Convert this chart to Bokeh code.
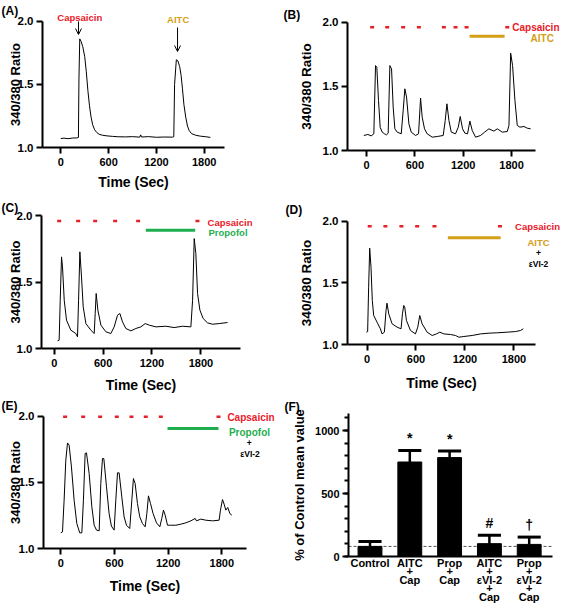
from bokeh.plotting import figure
from bokeh.models import (Range1d, FixedTicker, Label, Arrow, OpenHead,
                          NumeralTickFormatter, SingleIntervalTicker)
from bokeh.core.properties import value
from bokeh.layouts import column, row
from bokeh.embed import file_html
from bokeh.resources import INLINE

FONT = "Liberation Sans"
RED = "#E8202A"
GOLD = "#D4A017"
GREEN = "#1FAE4F"

# ------------------------------------------------------------------ data
time_ticks = [0, 600, 1200, 1800]
ratio_ticks = [1.0, 1.5, 2.0]

# (A) capsaicin then AITC
a_time = [0, 40, 90, 150, 200, 221, 228, 238, 255, 275, 300, 320, 340, 360, 380,
          400, 425, 450, 480, 522, 580, 650, 720, 815, 900, 990, 1003, 1012, 1100,
          1200, 1300, 1400, 1418, 1428, 1450, 1470, 1492, 1510, 1526, 1545, 1568,
          1590, 1609, 1640, 1693, 1750, 1820, 1877]
a_ratio = [1.071, 1.074, 1.07, 1.075, 1.076, 1.079, 1.55, 1.86, 1.84, 1.80, 1.72,
           1.60, 1.45, 1.33, 1.24, 1.18, 1.14, 1.12, 1.105, 1.097, 1.092, 1.088,
           1.085, 1.084, 1.086, 1.082, 1.1, 1.083, 1.086, 1.081, 1.083, 1.082,
           1.085, 1.5, 1.695, 1.685, 1.64, 1.57, 1.47, 1.34, 1.24, 1.17, 1.137,
           1.11, 1.097, 1.09, 1.085, 1.08]
a_cap_arrow = 222
a_aitc_arrow = 1465

# (B) repeated capsaicin, AITC
b_time = [-33, 17, 58, 91, 112, 128, 149, 170, 195, 224, 248, 269, 290, 311, 331,
          352, 381, 431, 455, 476, 497, 526, 555, 609, 646, 671, 691, 720, 753,
          816, 878, 952, 977, 998, 1023, 1052, 1105, 1139, 1163, 1192, 1221, 1254,
          1283, 1312, 1354, 1416, 1466, 1519, 1581, 1623, 1685, 1747, 1768, 1789,
          1813, 1842, 1871, 1904, 1954, 1995, 2037]
b_ratio = [1.117, 1.125, 1.114, 1.13, 1.662, 1.649, 1.39, 1.18, 1.143, 1.13, 1.122,
           1.135, 1.662, 1.636, 1.338, 1.169, 1.143, 1.13, 1.31, 1.481, 1.416,
           1.208, 1.143, 1.117, 1.13, 1.408, 1.26, 1.169, 1.13, 1.104, 1.109,
           1.117, 1.234, 1.364, 1.234, 1.143, 1.13, 1.182, 1.265, 1.169, 1.135,
           1.13, 1.229, 1.156, 1.104, 1.117, 1.143, 1.169, 1.151, 1.169, 1.143,
           1.148, 1.195, 1.758, 1.662, 1.39, 1.195, 1.182, 1.187, 1.174, 1.169]
b_cap_times = [70, 257, 455, 650, 960, 1105, 1242, 1747]
b_aitc_on, b_aitc_off = 1279, 1714

# (C) repeated capsaicin, propofol
c_time = [41, 61, 74, 90, 102, 123, 151, 204, 266, 286, 299, 315, 335, 356, 389,
          450, 491, 503, 515, 536, 573, 634, 695, 736, 777, 806, 838, 879, 941,
          1002, 1063, 1117, 1166, 1248, 1370, 1472, 1575, 1677, 1698, 1718, 1738,
          1759, 1788, 1828, 1882, 1943, 2025, 2127]
c_ratio = [1.058, 1.063, 1.364, 1.691, 1.616, 1.364, 1.214, 1.138, 1.113, 1.088,
           1.364, 1.729, 1.54, 1.314, 1.188, 1.138, 1.113, 1.264, 1.415, 1.289,
           1.176, 1.126, 1.113, 1.163, 1.251, 1.264, 1.201, 1.151, 1.133, 1.151,
           1.163, 1.188, 1.176, 1.163, 1.168, 1.158, 1.168, 1.163, 1.364, 1.829,
           1.716, 1.415, 1.289, 1.226, 1.193, 1.183, 1.188, 1.196]
c_cap_times = [61, 294, 503, 748, 1030, 1758]
c_prop_on, c_prop_off = 1124, 1730

# (D) repeated capsaicin, AITC + eVI-2
d_time = [-8, 8, 20, 33, 49, 65, 82, 123, 164, 184, 213, 233, 245, 266, 307, 368,
          417, 434, 450, 462, 483, 532, 593, 622, 646, 675, 736, 798, 851, 892,
          941, 1023, 1084, 1125, 1186, 1288, 1391, 1493, 1595, 1718, 1820, 1881,
          1914]
d_ratio = [1.1, 1.105, 1.465, 1.781, 1.627, 1.357, 1.235, 1.181, 1.127, 1.086, 1.1,
           1.276, 1.335, 1.249, 1.168, 1.141, 1.127, 1.249, 1.316, 1.303, 1.195,
           1.114, 1.086, 1.141, 1.235, 1.168, 1.1, 1.073, 1.086, 1.1, 1.086, 1.081,
           1.073, 1.059, 1.065, 1.073, 1.086, 1.092, 1.095, 1.1, 1.105, 1.114,
           1.127]
d_cap_times = [33, 225, 421, 614, 826, 1628]
d_aitc_on, d_aitc_off = 990, 1636

# (E) repeated capsaicin, propofol + eVI-2
e_time = [0, 19, 37, 56, 75, 93, 119, 149, 179, 212, 235, 253, 272, 287, 317, 347,
          373, 399, 429, 447, 466, 481, 511, 540, 566, 596, 615, 634, 652, 682,
          708, 734, 771, 794, 812, 831, 857, 883, 913, 943, 962, 980, 1003, 1032,
          1070, 1107, 1129, 1148, 1167, 1193, 1230, 1286, 1342, 1398, 1454, 1502,
          1517, 1565, 1621, 1696, 1770, 1785, 1808, 1826, 1845, 1867, 1890, 1912]
e_ratio = [1.118, 1.126, 1.365, 1.668, 1.798, 1.781, 1.617, 1.365, 1.189, 1.118,
           1.118, 1.365, 1.718, 1.723, 1.567, 1.315, 1.176, 1.139, 1.134, 1.491,
           1.68, 1.68, 1.466, 1.264, 1.169, 1.139, 1.365, 1.572, 1.572, 1.39,
           1.239, 1.176, 1.151, 1.365, 1.529, 1.491, 1.34, 1.239, 1.189, 1.164,
           1.264, 1.398, 1.34, 1.264, 1.194, 1.164, 1.227, 1.29, 1.252, 1.176,
           1.176, 1.176, 1.184, 1.194, 1.209, 1.227, 1.209, 1.222, 1.214, 1.209,
           1.214, 1.29, 1.37, 1.335, 1.29, 1.31, 1.264, 1.252]
e_cap_times = [48, 250, 440, 626, 790, 950, 1118, 1763]
e_prop_on, e_prop_off = 1193, 1763

# (F) summary bars
f_groups = ["Control", "AITC\n+\nCap", "Prop\n+\nCap",
            "AITC\n+\n\u03b5VI-2\n+\nCap", "Prop\n+\n\u03b5VI-2\n+\nCap"]
f_mean = [80, 750, 785, 102, 96]
f_sem = [40, 92, 52, 66, 58]
f_marks = ["", "*", "*", "#", "\u2020"]
pct_ticks = [0, 500, 1000]


# ------------------------------------------------------------------ helpers
def style_axes(p):
    for ax in (p.xaxis[0], p.yaxis[0]):
        ax.axis_line_width = 2
        ax.axis_line_color = "black"
        ax.major_tick_line_width = 2
        ax.major_tick_out = 6
        ax.major_tick_in = 0
        ax.minor_tick_line_color = None
        ax.major_label_text_font = FONT
        ax.major_label_text_font_style = "bold"
        ax.major_label_text_color = "black"
        ax.axis_label_text_font = FONT
        ax.axis_label_text_font_style = "bold"
        ax.axis_label_text_color = "black"
    p.xgrid.visible = False
    p.ygrid.visible = False
    p.outline_line_color = None
    p.background_fill_color = "white"
    p.border_fill_color = "white"


def base_figure(fx, fy, fw, fh, xmap, ymap):
    """Frame covers the whole canvas; xmap/ymap turn page pixels into data."""
    return figure(width=fw, height=fh, title=None, output_backend="svg",
                  toolbar_location=None,
                  x_range=Range1d(xmap(fx), xmap(fx + fw)),
                  y_range=Range1d(ymap(fy + fh), ymap(fy)),
                  min_border=0, min_border_left=0, min_border_right=0,
                  min_border_top=0, min_border_bottom=0)


def trace_panel(fx, fy, fw, fh, fl, fr, x0px, spp, y1px, ppu,
                xlabel, ylab_standoff, xlab_standoff, ylab_size=13):
    xmap = lambda px: (px - x0px) * spp
    ymap = lambda py: 1.0 + (y1px - py) / ppu
    p = base_figure(fx, fy, fw, fh, xmap, ymap)
    style_axes(p)
    x_left, x_right = xmap(fl), xmap(fr)
    p.yaxis.fixed_location = x_left
    p.xaxis.fixed_location = 1.0
    p.xaxis.bounds = (x_left, x_right)
    p.yaxis.bounds = (1.0, 2.0)
    p.xaxis.ticker = FixedTicker(ticks=time_ticks)
    p.yaxis.ticker = FixedTicker(ticks=ratio_ticks)
    p.yaxis.formatter = NumeralTickFormatter(format="0.0")
    p.xaxis.major_label_text_font_size = "11px"
    p.yaxis.major_label_text_font_size = "11.5px"
    p.xaxis.major_label_standoff = 4
    p.yaxis.major_label_standoff = 3
    p.yaxis.axis_label = "340/380 Ratio"
    p.yaxis.axis_label_text_font_size = f"{ylab_size}px"
    p.yaxis.axis_label_standoff = ylab_standoff
    if xlabel:
        p.xaxis.axis_label = "Time (Sec)"
        p.xaxis.axis_label_text_font_size = "14px"
        p.xaxis.axis_label_standoff = xlab_standoff

    def conv(px, py):
        return xmap(px), ymap(py)
    return p, conv


def add_text(p, conv, px, py, text, size, color="black", align="center"):
    x, y = conv(px, py)
    p.add_layout(Label(x=x, y=y, text=text, text_font=FONT,
                       text_font_size=f"{size}px", text_font_style="bold",
                       text_color=color, text_align=align,
                       text_baseline="middle"))


def cap_marks(p, times, level):
    p.scatter(x=times, y=[level] * len(times), marker="dash", size=4,
              line_width=2.5, line_color=RED)


def bar_line(p, t0, t1, level, color):
    p.segment(x0=[t0], x1=[t1], y0=[level], y1=[level], line_width=3,
              line_color=color)


# ------------------------------------------------------------------ (A)
pA, cA = trace_panel(8, 0, 280, 200, 50, 232, 68.3, 12.55, 147, 126.3,
                     True, -8, 5)
pA.line(a_time, a_ratio, line_color="black", line_width=1)
add_text(pA, cA, 9, 10, "(A)", 12, align="left")
add_text(pA, cA, 87.3, 17.3, "Capsaicin", 9.5, RED)
add_text(pA, cA, 185.7, 19.3, "AITC", 9.5, GOLD)
for t, ya, yb in ((a_cap_arrow, 21, 34), (a_aitc_arrow, 27, 51)):
    pA.add_layout(Arrow(end=OpenHead(size=6, line_width=1, line_color="black"),
                        x_start=t, y_start=cA(0, ya)[1], x_end=t,
                        y_end=cA(0, yb)[1], line_width=1, line_color="black"))

# ------------------------------------------------------------------ (B)
pB, cB = trace_panel(288, 0, 280, 200, 355, 543, 374, 12.41, 150, 128.3,
                     False, 6, 5, 13.5)
pB.line(b_time, b_ratio, line_color="black", line_width=1)
cap_marks(pB, b_cap_times, 1.961)
bar_line(pB, b_aitc_on, b_aitc_off, 1.891, GOLD)
add_text(pB, cB, 291, 14, "(B)", 12, align="left")
add_text(pB, cB, 567, 27, "Capsaicin", 10, RED, align="right")
add_text(pB, cB, 549.7, 38.3, "AITC", 10, GOLD)

# ------------------------------------------------------------------ (C)
pC, cC = trace_panel(8, 200, 280, 200, 49, 248, 61.7, 12.27, 348, 132.6,
                     True, -9, 7)
pC.line(c_time, c_ratio, line_color="black", line_width=1)
cap_marks(pC, c_cap_times, 1.962)
bar_line(pC, c_prop_on, c_prop_off, 1.892, GREEN)
add_text(pC, cC, 9, 207, "(C)", 12, align="left")
add_text(pC, cC, 237.5, 221.7, "Capsaicin", 9.5, RED)
add_text(pC, cC, 235.5, 232.3, "Propofol", 9.5, GREEN)

# ------------------------------------------------------------------ (D)
pD, cD = trace_panel(288, 200, 280, 200, 355, 543, 374.5, 12.245, 344, 123.3,
                     True, 6, 9, 13.5)
pD.line(d_time, d_ratio, line_color="black", line_width=1)
cap_marks(pD, d_cap_times, 1.959)
bar_line(pD, d_aitc_on, d_aitc_off, 1.865, GOLD)
add_text(pD, cD, 293, 209, "(D)", 12, align="left")
add_text(pD, cD, 545, 225.7, "Capsaicin", 9.5, RED)
add_text(pD, cD, 546, 241.7, "AITC", 9.5, GOLD)
add_text(pD, cD, 546, 252.7, "+", 8.5)
add_text(pD, cD, 546, 263.3, "\u03b5VI-2", 8.5)

# ------------------------------------------------------------------ (E)
pE, cE = trace_panel(8, 400, 280, 207, 51, 254, 68.3, 11.18, 548, 132.3,
                     True, -7, 8)
pE.line(e_time, e_ratio, line_color="black", line_width=1)
cap_marks(pE, e_cap_times, 1.995)
bar_line(pE, e_prop_on, e_prop_off, 1.907, GREEN)
add_text(pE, cE, 9, 405, "(E)", 12, align="left")
add_text(pE, cE, 258.5, 417.3, "Capsaicin", 10, RED)
add_text(pE, cE, 257, 431.7, "Propofol", 10, GREEN)
add_text(pE, cE, 256.7, 442.7, "+", 8.5)
add_text(pE, cE, 257.5, 453.3, "\u03b5VI-2", 8.5)

# ------------------------------------------------------------------ (F)
fx, fy, fw, fh = 288, 400, 280, 207
fl, fr, y0px, ppu_f = 356, 560, 556, 0.126
x0px_f, ppc = 377.5, 39.8
fxmap = lambda px: (px - x0px_f) / ppc
fymap = lambda py: (y0px - py) / ppu_f
pF = base_figure(fx, fy, fw, fh, fxmap, fymap)
style_axes(pF)
f_left, f_right = fxmap(fl), fxmap(fr)
pF.yaxis.fixed_location = f_left
pF.xaxis.fixed_location = 0
pF.xaxis.bounds = (f_left, f_right)
pF.yaxis.bounds = (0, 1135)
f_x = list(range(len(f_groups)))
f_top = [m + s for m, s in zip(f_mean, f_sem)]
pF.segment(x0=[f_left], x1=[f_right], y0=[f_mean[0]], y1=[f_mean[0]],
           line_dash="3 2", line_color="#555555", line_width=1)
pF.vbar(x=f_x, top=f_mean, width=0.6, fill_color="black", line_color="black")
pF.segment(x0=f_x, x1=f_x, y0=f_mean, y1=f_top, line_width=2.5,
           line_color="black")
pF.segment(x0=[x - 0.29 for x in f_x], x1=[x + 0.29 for x in f_x], y0=f_top,
           y1=f_top, line_width=3, line_color="black")
pF.text(x=f_x, y=[t + 35 for t in f_top], text=f_marks, text_align="center",
        text_baseline="bottom", text_font=value(FONT), text_font_size="14px",
        text_font_style="bold", text_color="black")
pF.xaxis.ticker = FixedTicker(ticks=f_x)
pF.xaxis.major_label_overrides = {i: g for i, g in enumerate(f_groups)}
pF.xaxis.major_tick_line_color = None
pF.xaxis.major_tick_out = 0
pF.xaxis.major_label_text_font_size = "11px"
pF.xaxis.major_label_text_line_height = 0.72
pF.xaxis.major_label_standoff = 0
pF.yaxis.ticker = SingleIntervalTicker(interval=500, num_minor_ticks=5)
pF.yaxis.minor_tick_line_color = "black"
pF.yaxis.minor_tick_line_width = 2
pF.yaxis.minor_tick_out = 4
pF.yaxis.minor_tick_in = 0
pF.yaxis.major_label_text_font_size = "11px"
pF.yaxis.major_label_standoff = 3
pF.yaxis.axis_label = "% of Control mean value"
pF.yaxis.axis_label_text_font_size = "13px"
pF.yaxis.axis_label_standoff = 5


def cF(px, py):
    return fxmap(px), fymap(py)


add_text(pF, cF, 292, 406, "(F)", 12, align="left")

layout = column(row(pA, pB), row(pC, pD), row(pE, pF))
open("out.html", "w").write(file_html(layout, INLINE))
